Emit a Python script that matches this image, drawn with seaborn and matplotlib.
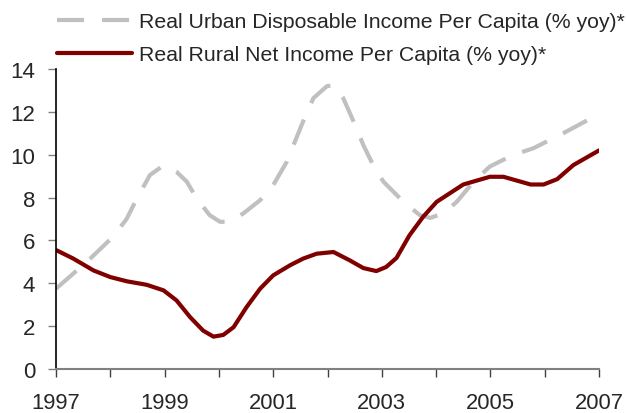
import matplotlib
matplotlib.use("Agg")
import matplotlib.pyplot as plt
import seaborn as sns
import pandas as pd

# Real urban disposable income per capita, % yoy
urban_t = [1997.00, 1997.25, 1997.63, 1998.00, 1998.18, 1998.30, 1998.49, 1998.73,
           1998.98, 1999.22, 1999.41, 1999.59, 1999.83, 2000.02, 2000.20, 2000.45,
           2000.76, 2001.00, 2001.25, 2001.55, 2001.74, 2001.99, 2002.11, 2002.29,
           2002.48, 2002.66, 2002.84, 2003.03, 2003.40, 2003.70, 2003.89, 2004.13,
           2004.38, 2004.69, 2004.99, 2005.42, 2005.79, 2006.34, 2007.00]
urban_v = [3.75, 4.30, 5.15, 6.05, 6.60, 7.00, 7.96, 9.05,
           9.50, 9.20, 8.74, 7.96, 7.18, 6.87, 6.87, 7.26,
           7.88, 8.58, 9.67, 11.55, 12.64, 13.20, 13.24, 12.64,
           11.55, 10.45, 9.52, 8.74, 7.80, 7.18, 7.05, 7.26,
           7.80, 8.74, 9.45, 9.99, 10.30, 11.00, 11.90]

# Real rural net income per capita, % yoy
rural_t = [1997.01, 1997.32, 1997.69, 1998.00, 1998.31, 1998.67, 1998.98, 1999.22,
           1999.47, 1999.71, 1999.90, 2000.08, 2000.27, 2000.51, 2000.76, 2001.00,
           2001.31, 2001.55, 2001.80, 2002.11, 2002.41, 2002.66, 2002.90, 2003.08,
           2003.27, 2003.51, 2003.76, 2004.01, 2004.50, 2004.99, 2005.24, 2005.74,
           2005.98, 2006.23, 2006.53, 2007.00]
rural_v = [5.54, 5.15, 4.60, 4.29, 4.09, 3.93, 3.67, 3.20,
           2.42, 1.79, 1.51, 1.59, 1.95, 2.89, 3.75, 4.37,
           4.84, 5.15, 5.38, 5.46, 5.07, 4.71, 4.57, 4.76,
           5.18, 6.24, 7.10, 7.80, 8.61, 8.97, 8.97, 8.61,
           8.61, 8.86, 9.52, 10.20]

labels = ["Real Urban Disposable Income Per Capita (% yoy)*",
          "Real Rural Net Income Per Capita (% yoy)*"]
year_ticks = [1997, 1999, 2001, 2003, 2005, 2007]
y_ticks = [0, 2, 4, 6, 8, 10, 12, 14]

urban = pd.DataFrame({"year": urban_t, "value": urban_v})
rural = pd.DataFrame({"year": rural_t, "value": rural_v})

sns.set_theme(style="white")
plt.rcParams["font.family"] = ["Liberation Sans", "DejaVu Sans"]

fig = plt.figure(figsize=(6.26, 4.14), dpi=100)
ax = fig.add_axes([56 / 626, 1 - 370 / 414, (599 - 56) / 626, 300 / 414])

sns.lineplot(data=urban, x="year", y="value", ax=ax, color="#C0C0C0",
             linewidth=3.0, label=labels[0])
ax.lines[-1].set_dashes((6.5, 4.3))
sns.lineplot(data=rural, x="year", y="value", ax=ax, color="#800000",
             linewidth=3.0, label=labels[1])

ax.set_xlim(1997, 2007)
ax.set_ylim(0, 14)
ax.set_xticks(range(1997, 2008))
ax.set_xticklabels([str(y) if y in year_ticks else "" for y in range(1997, 2008)])
ax.set_yticks(y_ticks)
ax.set_xlabel("")
ax.set_ylabel("")

for s in ["top", "right"]:
    ax.spines[s].set_visible(False)
ax.spines["left"].set_color("black")
ax.spines["left"].set_linewidth(1.2)
ax.spines["bottom"].set_color("#808080")
ax.spines["bottom"].set_linewidth(1.5)

ax.tick_params(axis="x", direction="out", length=6, width=1.0, color="#404040",
               labelsize=15.8, pad=10.5, bottom=True)
ax.tick_params(axis="y", direction="out", length=6, width=1.0, color="#808080",
               labelsize=16, pad=9, left=True)

ax.legend_.remove()
handles, lbls = ax.get_legend_handles_labels()
fig.legend(handles, lbls, loc="upper left", bbox_to_anchor=(57 / 626, 1 - 13 / 414),
           frameon=False, fontsize=15.3, handlelength=3.55, handletextpad=0.33,
           labelspacing=0.68, borderpad=0, borderaxespad=0)

fig.savefig("out.png", dpi=100)
